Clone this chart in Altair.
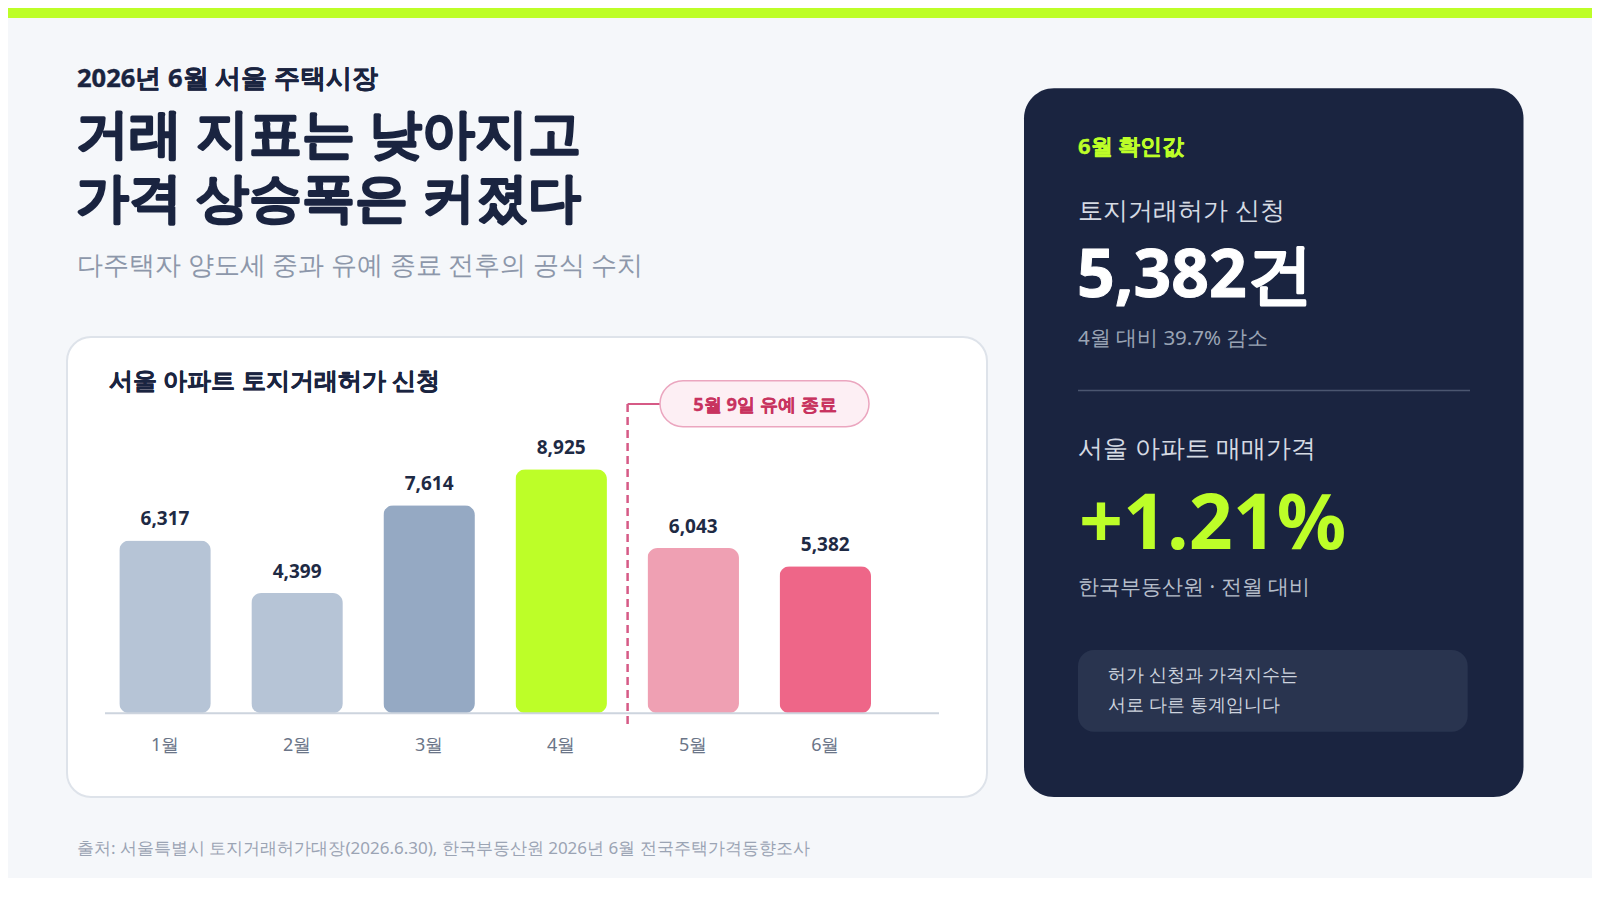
import altair as alt
import pandas as pd

# ---------------- data ----------------
months = ["1월", "2월", "3월", "4월", "5월", "6월"]
counts = [6317, 4399, 7614, 8925, 6043, 5382]
price_change_pct = 1.21

kicker = "2026년 6월 서울 주택시장"
title_lines = ["거래 지표는 낮아지고", "가격 상승폭은 커졌다"]
subtitle = "다주택자 양도세 중과 유예 종료 전후의 공식 수치"
card_title = "서울 아파트 토지거래허가 신청"
event_label = "5월 9일 유예 종료"
panel_kicker = "6월 확인값"
metric1_label = "토지거래허가 신청"
metric2_label = "서울 아파트 매매가격"
metric2_note = "한국부동산원 · 전월 대비"
note_lines = ["허가 신청과 가격지수는", "서로 다른 통계입니다"]
source = "출처: 서울특별시 토지거래허가대장(2026.6.30), 한국부동산원 2026년 6월 전국주택가격동향조사"

# ---------------- style ----------------
FONT = "Noto Sans, sans-serif"
LIME = "#BDFE28"
NAVY = "#1A2440"
bar_palette = ["#B6C4D6", "#B6C4D6", "#95A9C3", LIME, "#EFA0B3", "#EE6688"]

latest = counts[-1]
peak = counts[months.index("4월")]
drop_pct = (peak - latest) / peak * 100
metric1_value = f"{latest:,}건"
metric1_note = f"4월 대비 {drop_pct:.1f}% 감소"
metric2_value = f"+{price_change_pct:.2f}%"

one = pd.DataFrame({"k": [0]})


def box(x, x2, y, y2, fill, r=0, stroke=None, sw=0):
    kw = dict(cornerRadius=r, fill=fill)
    if stroke:
        kw.update(stroke=stroke, strokeWidth=sw)
    return alt.Chart(one).mark_rect(**kw).encode(
        x=alt.value(x), x2=alt.value(x2), y=alt.value(y), y2=alt.value(y2)
    )


def label(text, x, y, size, color, weight="normal", align="left", heavy=0):
    kw = dict(text=text, font=FONT, fontSize=size, color=color, fontWeight=weight,
              align=align, baseline="middle")
    if heavy:
        kw.update(stroke=color, strokeWidth=heavy, strokeJoin="round")
    return alt.Chart(one).mark_text(**kw).encode(x=alt.value(x), y=alt.value(y))


layers = []

# top lime strip
layers.append(box(0, 1584, 0, 10, LIME))

# header
layers.append(label(kicker, 69, 71, 25.5, NAVY, "bold", heavy=0.4))
layers.append(label(title_lines[0], 68, 127.5, 53, NAVY, "bold", heavy=1.8))
layers.append(label(title_lines[1], 68, 192, 53, NAVY, "bold", heavy=1.8))
layers.append(label(subtitle, 69, 258, 25.5, "#8D97AA"))

# chart card
layers.append(box(59, 979, 329, 789, "#FFFFFF", 24, "#DEE3EA", 2))
layers.append(label(card_title, 101, 374, 24.4, NAVY, "bold", heavy=0.4))

# bars
bar_df = pd.DataFrame({"month": months, "count": counts})
x_enc = alt.X(
    "month:N", sort=months, axis=None,
    scale=alt.Scale(domain=months, range=[91, 883.3], paddingInner=0.307, paddingOuter=0.1535),
)
y_enc = alt.Y(
    "count:Q", axis=None,
    scale=alt.Scale(domain=[0, 10000], range=[705.3, 431.9], nice=False, zero=True),
)
base = alt.Chart(bar_df)
bars = base.mark_bar(cornerRadius=10).encode(
    x=x_enc, y=y_enc,
    color=alt.Color("month:N", scale=alt.Scale(domain=months, range=bar_palette), legend=None),
)
values = base.mark_text(
    font=FONT, fontSize=19, fontWeight="bold", color="#1E2A44", baseline="middle", dy=-21.5
).encode(x=x_enc, y=y_enc, text=alt.Text("count:Q", format=","))
month_labels = base.mark_text(
    font=FONT, fontSize=18, color="#6B7588", baseline="middle"
).encode(x=x_enc, y=alt.value(738), text="month:N")
layers += [bars, values, month_labels]

# baseline
layers.append(
    alt.Chart(one).mark_rule(color="#CDD4DE", strokeWidth=2).encode(
        x=alt.value(97), x2=alt.value(931), y=alt.value(705.3)
    )
)

# event marker
layers.append(
    alt.Chart(one).mark_rule(color="#D65A86", strokeWidth=2.5, strokeDash=[8, 5]).encode(
        x=alt.value(619.6), y=alt.value(396), y2=alt.value(720)
    )
)
layers.append(
    alt.Chart(one).mark_rule(color="#D65A86", strokeWidth=2).encode(
        x=alt.value(619.6), x2=alt.value(653), y=alt.value(396)
    )
)
layers.append(box(652, 861, 372.7, 418.7, "#FDEFF4", 23, "#EBA6BF", 1.5))
layers.append(label(event_label, 757, 396.5, 18.4, "#C8335F", "bold", "center", heavy=0.3))

# dark panel
layers.append(box(1016, 1515.5, 80.3, 789, NAVY, 30))
layers.append(label(panel_kicker, 1070, 138.5, 22, LIME, "bold", heavy=0.35))
layers.append(label(metric1_label, 1070, 203, 25, "#D5DAE3"))
layers.append(label(metric1_value, 1069, 268.5, 66, "#FFFFFF", "bold", heavy=1.0))
layers.append(label(metric1_note, 1070, 330.5, 20.5, "#9AA4B5"))
layers.append(
    alt.Chart(one).mark_rule(color="#4B5670", strokeWidth=1.5).encode(
        x=alt.value(1070), x2=alt.value(1462), y=alt.value(382.5)
    )
)
layers.append(label(metric2_label, 1070, 440.5, 25, "#D5DAE3"))
layers.append(label(metric2_value, 1071, 517.5, 77, LIME, "bold"))
layers.append(label(metric2_note, 1070, 580, 21, "#B5BDCA"))
layers.append(box(1070, 1459.7, 642, 723.7, "#29344F", 16))
layers.append(label(note_lines[0], 1100, 668.3, 18.3, "#CDD3DE"))
layers.append(label(note_lines[1], 1100, 698.3, 18.3, "#CDD3DE"))

# footer
layers.append(label(source, 69, 841, 17, "#9BA4B4"))

chart = (
    alt.layer(*layers)
    .properties(width=1584, height=870, autosize=alt.AutoSizeParams(type="none"), padding=0)
    .configure(background="#F5F7FA", font=FONT)
    .configure_view(strokeWidth=0)
)

chart.save("out.html", embed_options={"renderer": "svg", "actions": False})
